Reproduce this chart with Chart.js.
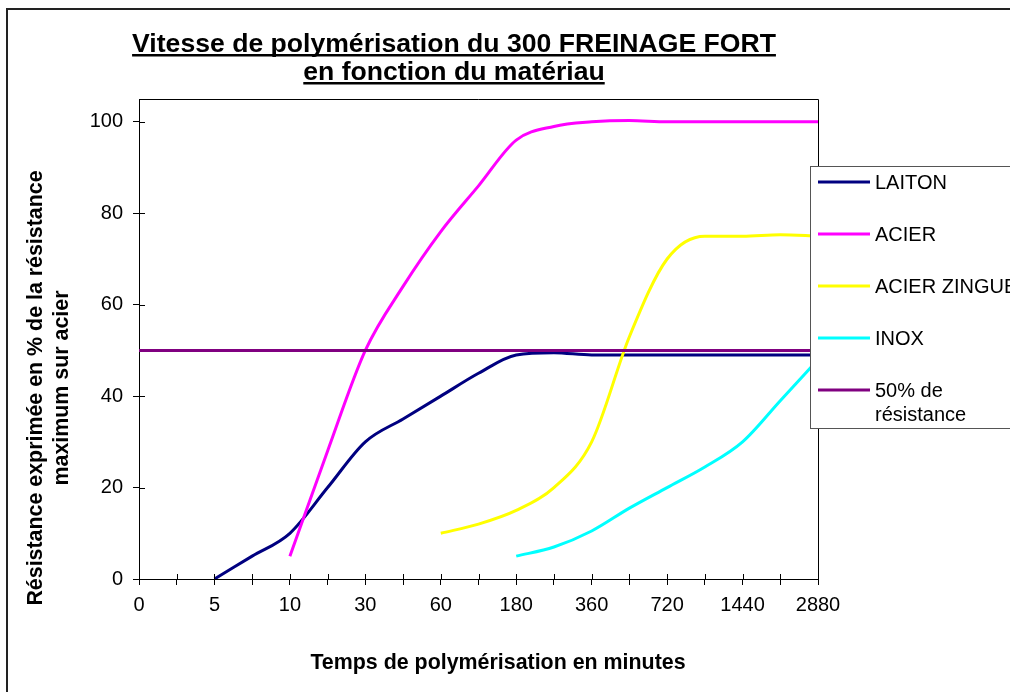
<!DOCTYPE html>
<html>
<head>
<meta charset="utf-8">
<script src="https://cdn.jsdelivr.net/npm/chart.js@4/dist/chart.umd.min.js"></script>
<style>
  html, body { margin: 0; padding: 0; background: #fff; overflow: hidden; }
  #wrap { width: 1010px; height: 692px; position: relative; }
</style>
</head>
<body>
<div id="wrap"><canvas id="chart"></canvas></div>
<script>
// data
var categories = ["0", "", "5", "", "10", "", "30", "", "60", "", "180", "", "360", "", "720", "", "1440", "", "2880"];
var yTicks = [0, 20, 40, 60, 80, 100];

var laiton = [null, null, 0, 5, 10, 20, 30, 35, 40, 45, 49, 49.5, 49, 49, 49, 49, 49, 49, 49];
var acier = [null, null, null, null, 5, 28, 50, 64, 76, 86, 96, 99, 100, 100.3, 100, 100, 100, 100, 100];
var acierZingue = [null, null, null, null, null, null, null, null, 10, 12, 15, 20, 30, 53, 70, 75, 75, 75.3, 75];
var inox = [null, null, null, null, null, null, null, null, null, null, 5, 7, 10.5, 15.5, 20, 24.5, 30, 39, 48];
var seuil = [50, 50, 50, 50, 50, 50, 50, 50, 50, 50, 50, 50, 50, 50, 50, 50, 50, 50, 50];

var seriesNames = ["LAITON", "ACIER", "ACIER ZINGUE", "INOX", "50% de résistance"];
var seriesColors = ["#000080", "#FF00FF", "#FFFF00", "#00FFFF", "#800080"];
var legendText = [["LAITON"], ["ACIER"], ["ACIER ZINGUE"], ["INOX"], ["50% de", "résistance"]];

var FONT = "'Liberation Sans', Arial, sans-serif";

// titles, frame, legend drawn by hand
var decor = {
  id: "decor",
  beforeDraw: function (chart) {
    var c = chart.ctx;
    c.save();
    c.fillStyle = "#fff";
    c.fillRect(0, 0, chart.width, chart.height);
    c.strokeStyle = "#222";
    c.lineWidth = 2;
    c.beginPath();
    c.moveTo(7, 692);
    c.lineTo(7, 9);
    c.lineTo(1010, 9);
    c.stroke();
    c.restore();
  },
  afterDraw: function (chart) {
    var c = chart.ctx;
    var a = chart.chartArea;
    var xs = chart.scales.x;
    var ys = chart.scales.y;
    c.save();

    // top and right border of plot area
    c.strokeStyle = "#000";
    c.lineWidth = 1;
    c.beginPath();
    c.moveTo(a.left, a.top + 0.5);
    c.lineTo(a.right + 0.5, a.top + 0.5);
    c.lineTo(a.right + 0.5, a.bottom);
    c.stroke();

    // inner half of crossing tick marks
    c.beginPath();
    for (var i = 0; i < categories.length; i++) {
      var px = Math.round(xs.getPixelForTick(i)) + 0.5;
      c.moveTo(px, a.bottom);
      c.lineTo(px, a.bottom - 5);
    }
    yTicks.forEach(function (v) {
      var py = Math.round(ys.getPixelForValue(v)) + 0.5;
      c.moveTo(a.left, py);
      c.lineTo(a.left + 6, py);
    });
    c.stroke();

    // main title, underlined
    c.fillStyle = "#000";
    c.font = "bold 26.6px " + FONT;
    c.textAlign = "center";
    c.textBaseline = "alphabetic";
    var titles = ["Vitesse de polymérisation du 300 FREINAGE FORT", "en fonction du matériau"];
    titles.forEach(function (t, k) {
      var by = 52 + k * 28;
      c.fillText(t, 454, by);
      var w = c.measureText(t).width;
      c.fillRect(454 - w / 2, by + 2, w, 2.5);
    });

    // axis titles
    c.font = "bold 21.4px " + FONT;
    c.textBaseline = "middle";
    c.fillText("Temps de polymérisation en minutes", 498, 663);
    c.save();
    c.translate(36, 388);
    c.rotate(-Math.PI / 2);
    c.fillText("Résistance exprimée en % de la résistance", 0, 0);
    c.fillText("maximum sur acier", 0, 26);
    c.restore();

    // legend
    c.fillStyle = "#fff";
    c.fillRect(810, 166, 260, 262);
    c.strokeStyle = "#555";
    c.lineWidth = 1;
    c.strokeRect(810.5, 166.5, 260, 262);
    c.font = "20px " + FONT;
    c.textAlign = "left";
    c.textBaseline = "middle";
    for (var j = 0; j < seriesNames.length; j++) {
      var ly = 182 + j * 52;
      c.strokeStyle = seriesColors[j];
      c.lineWidth = 3;
      c.beginPath();
      c.moveTo(818, ly);
      c.lineTo(870, ly);
      c.stroke();
      c.fillStyle = "#000";
      legendText[j].forEach(function (line, n) {
        c.fillText(line, 875, ly + 1 + n * 24);
      });
    }
    c.restore();
  }
};

var seriesData = [laiton, acier, acierZingue, inox, seuil];
var datasets = seriesData.map(function (d, i) {
  return {
    label: seriesNames[i],
    data: d,
    borderColor: seriesColors[i],
    backgroundColor: seriesColors[i],
    borderWidth: 3,
    cubicInterpolationMode: "monotone",
    tension: i === 4 ? 0 : 0.4,
    pointRadius: 0,
    fill: false,
    order: 5 - i
  };
});

var ctx = document.getElementById("chart").getContext("2d");
new Chart(ctx, {
  type: "line",
  data: { labels: categories, datasets: datasets },
  options: {
    responsive: true,
    maintainAspectRatio: false,
    animation: false,
    layout: { padding: { left: 0, top: 99, right: 192, bottom: 73 } },
    plugins: {
      legend: { display: false },
      title: { display: false },
      tooltip: { enabled: false }
    },
    scales: {
      x: {
        offset: false,
        grid: { drawOnChartArea: false, tickLength: 6, color: "#000" },
        border: { color: "#000" },
        ticks: {
          autoSkip: false,
          maxRotation: 0,
          color: "#000",
          padding: 8,
          font: { family: FONT, size: 20 },
          callback: function (v, i) {
            return categories[i];
          }
        },
        afterFit: function (s) {
          s.height = 40;
        }
      },
      y: {
        min: 0,
        max: 105,
        afterBuildTicks: function (s) {
          s.ticks = yTicks.map(function (v) {
            return { value: v };
          });
        },
        grid: { drawOnChartArea: false, tickLength: 6, color: "#000" },
        border: { color: "#000" },
        ticks: { color: "#000", padding: 10, font: { family: FONT, size: 20 } },
        afterFit: function (s) {
          s.width = 139;
        }
      }
    }
  },
  plugins: [decor]
});
</script>
</body>
</html>
